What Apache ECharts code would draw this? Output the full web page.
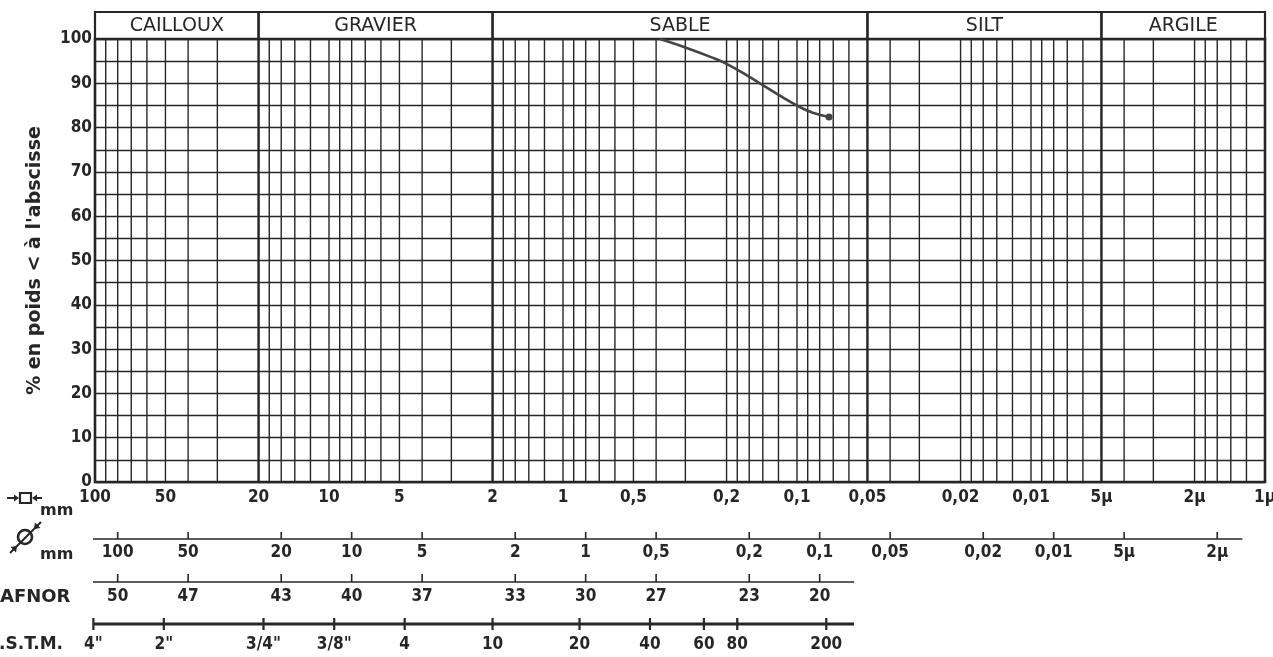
<!DOCTYPE html>
<html>
<head>
<meta charset="utf-8">
<title>Courbe granulométrique</title>
<script src="https://cdn.jsdelivr.net/npm/echarts@6/dist/echarts.min.js"></script>
<style>
  html, body { margin: 0; padding: 0; background: #ffffff; }
  #chart { width: 1273px; height: 657px; }
</style>
</head>
<body>
<div id="chart"></div>
<script>
// Soil classes shown in the header band, bounds in mm
const classNames = ['CAILLOUX', 'GRAVIER', 'SABLE', 'SILT', 'ARGILE'];
const classBounds = [100, 20, 2, 0.05, 0.005, 0.001];

// Log-paper ruling: in every decade, lines at these multiples of the decade base
const decadeBases = [10, 1, 0.1, 0.01, 0.001];
const rulingSteps = [9, 8, 7, 6, 5, 4, 3, 2, 1.8, 1.6, 1.4, 1.2];

// Square-mesh openings (mm) under the grid
const meshLabels = ['100', '50', '20', '10', '5', '2', '1', '0,5', '0,2', '0,1', '0,05', '0,02', '0,01', '5µ', '2µ', '1µ'];
const meshValues = [100, 50, 20, 10, 5, 2, 1, 0.5, 0.2, 0.1, 0.05, 0.02, 0.01, 0.005, 0.002, 0.001];

// Round-hole diameters (mm); a round hole passes the same grain as a square mesh 1.25 times smaller
const roundLabels = ['100', '50', '20', '10', '5', '2', '1', '0,5', '0,2', '0,1', '0,05', '0,02', '0,01', '5µ', '2µ'];
const roundValues = [100, 50, 20, 10, 5, 2, 1, 0.5, 0.2, 0.1, 0.05, 0.02, 0.01, 0.005, 0.002];
const ROUND_TO_SQUARE = 1.25;

// AFNOR sieve modules and their square openings (mm)
const afnorModules = ['50', '47', '43', '40', '37', '33', '30', '27', '23', '20'];
const afnorMm = [80, 40, 16, 8, 4, 1.6, 0.8, 0.4, 0.16, 0.08];

// A.S.T.M. sieve designations and openings (mm)
const astmLabels = ['4"', '2"', '3/4"', '3/8"', '4', '10', '20', '40', '60', '80', '200'];
const astmMm = [101.6, 50.8, 19.05, 9.5, 4.75, 2, 0.85, 0.425, 0.25, 0.18, 0.075];

// Extent of the scale rules below the grid (mm)
const roundRule = [102, 0.00125];
const sieveRule = [102, 0.057];

// Passing curve: grain size (mm) and % passing by weight
const curveMm = [0.385, 0.30, 0.23, 0.20, 0.165, 0.14, 0.115, 0.097, 0.085, 0.073];
const curvePct = [100, 98.1, 95.8, 94.4, 91.9, 89.6, 86.8, 84.6, 83.3, 82.4];

const INK = '#262626';
const NUM_FONT = "'DejaVu Sans Condensed', 'Liberation Sans Narrow', 'DejaVu Sans', sans-serif";
const TXT_FONT = "'DejaVu Sans', sans-serif";

const rulingValues = [];
decadeBases.forEach(function (b) {
  rulingValues.push(b * 10);
  rulingSteps.forEach(function (m) { rulingValues.push(b * m); });
});

const chart = echarts.init(document.getElementById('chart'), null, { renderer: 'canvas' });

// Vertical log-paper ruling inside the plot area
function rulingSeries() {
  return {
    type: 'custom', silent: true, clip: false, z: 2,
    data: rulingValues.map(function (v) { return [v, 0]; }),
    renderItem: function (params, api) {
      const a = api.coord([api.value(0), 0]);
      const b = api.coord([api.value(0), 100]);
      return { type: 'line', shape: { x1: a[0], y1: a[1], x2: b[0], y2: b[1] },
        style: { stroke: INK, lineWidth: 1.4 } };
    }
  };
}

// Header band with the soil class names and the class boundaries
function headerSeries() {
  return {
    type: 'custom', silent: true, clip: false, z: 4,
    data: classNames.map(function (n, i) { return [classBounds[i], 0, classBounds[i + 1], i]; }),
    renderItem: function (params, api) {
      const a = api.coord([api.value(0), 100]);
      const b = api.coord([api.value(2), 100]);
      const bottom = api.coord([api.value(0), 0])[1];
      const top = a[1] - 27;
      const children = [
        { type: 'rect', shape: { x: a[0], y: top, width: b[0] - a[0], height: 27 },
          style: { fill: 'none', stroke: INK, lineWidth: 2.2 } },
        { type: 'text', style: { text: classNames[api.value(3)], x: (a[0] + b[0]) / 2, y: top + 14,
          align: 'center', verticalAlign: 'middle', fill: INK,
          font: '500 19px ' + TXT_FONT } }
      ];
      if (api.value(3) > 0) {
        children.push({ type: 'line', shape: { x1: a[0], y1: a[1], x2: a[0], y2: bottom },
          style: { stroke: INK, lineWidth: 2.3 } });
      }
      return { type: 'group', children: children };
    }
  };
}

// A row of labelled ticks placed below the grid
function scaleRow(values, labels, opt) {
  return {
    type: 'custom', silent: true, clip: false, z: 4,
    data: values.map(function (v, i) { return [v, 0, i]; }),
    renderItem: function (params, api) {
      const p = api.coord([api.value(0), 0]);
      const y = p[1] + opt.line;
      const children = [];
      if (opt.tick) {
        children.push({ type: 'line', shape: { x1: p[0], y1: y - opt.tick[0], x2: p[0], y2: y + opt.tick[1] },
          style: { stroke: INK, lineWidth: opt.tickWidth || 1.6 } });
      }
      children.push({ type: 'text', style: { text: labels[api.value(2)], x: p[0], y: p[1] + opt.label,
        align: 'center', verticalAlign: 'middle', fill: INK, font: 'bold 17px ' + NUM_FONT } });
      return { type: 'group', children: children };
    }
  };
}

// A horizontal rule between two sizes, offset below the grid
function ruleSeries(span, offset, width) {
  return {
    type: 'custom', silent: true, clip: false, z: 3,
    data: [[span[0], 0, span[1]]],
    renderItem: function (params, api) {
      const a = api.coord([api.value(0), 0]);
      const b = api.coord([api.value(2), 0]);
      return { type: 'line', shape: { x1: a[0], y1: a[1] + offset, x2: b[0], y2: b[1] + offset },
        style: { stroke: INK, lineWidth: width } };
    }
  };
}

const lastIdx = curveMm.length - 1;

const option = {
  backgroundColor: '#ffffff',
  animation: false,
  grid: {
    left: 95, right: 8, top: 39, height: 443,
    show: true, borderColor: INK, borderWidth: 2.6, backgroundColor: 'transparent',
    containLabel: false, outerBoundsMode: 'none'
  },
  xAxis: {
    type: 'log', logBase: 10, min: 0.001, max: 100, inverse: true,
    axisLine: { show: false }, axisTick: { show: false }, axisLabel: { show: false },
    splitLine: { show: false }, minorSplitLine: { show: false }
  },
  yAxis: {
    type: 'value', min: 0, max: 100, interval: 5,
    axisLine: { show: false }, axisTick: { show: false },
    splitLine: { show: true, lineStyle: { color: INK, width: 1.4 } },
    axisLabel: {
      margin: 3, color: INK, fontSize: 17, fontWeight: 'bold', fontFamily: NUM_FONT,
      formatter: function (v) { return v % 10 === 0 ? String(v) : ''; }
    },
    name: "% en poids < à l'abscisse",
    nameLocation: 'middle', nameRotate: 90, nameGap: 50,
    nameTextStyle: { color: INK, fontSize: 19, fontWeight: 'bold', fontFamily: TXT_FONT }
  },
  series: [
    rulingSeries(),
    headerSeries(),
    scaleRow(meshValues, meshLabels, { line: 0, label: 16 }),
    ruleSeries(roundRule, 57, 1.6),
    scaleRow(roundValues.map(function (v) { return v / ROUND_TO_SQUARE; }), roundLabels,
      { line: 57, tick: [7, 0], label: 71 }),
    ruleSeries(sieveRule, 100, 1.6),
    scaleRow(afnorMm, afnorModules, { line: 100, tick: [8, 0], label: 115 }),
    ruleSeries(sieveRule, 142, 2.8),
    scaleRow(astmMm, astmLabels, { line: 142, tick: [6, 6], tickWidth: 2.2, label: 163 }),
    {
      type: 'line', name: 'passant', z: 6, smooth: 0.4,
      data: curveMm.map(function (m, i) { return [m, curvePct[i]]; }),
      symbol: 'circle',
      symbolSize: function (val, params) { return params.dataIndex === lastIdx ? 7 : 0; },
      showAllSymbol: true,
      itemStyle: { color: '#444444' },
      lineStyle: { color: '#444444', width: 2.6 }
    }
  ],
  graphic: [
    // square-mesh pictogram
    { type: 'rect', shape: { x: 20, y: 493, width: 11, height: 10 }, style: { fill: 'none', stroke: INK, lineWidth: 2.2 } },
    { type: 'line', shape: { x1: 7, y1: 498, x2: 17, y2: 498 }, style: { stroke: INK, lineWidth: 2 } },
    { type: 'polygon', shape: { points: [[19, 498], [14, 494.5], [14, 501.5]] }, style: { fill: INK } },
    { type: 'line', shape: { x1: 42, y1: 498, x2: 34, y2: 498 }, style: { stroke: INK, lineWidth: 2 } },
    { type: 'polygon', shape: { points: [[32, 498], [37, 494.5], [37, 501.5]] }, style: { fill: INK } },
    { type: 'text', style: { text: 'mm', x: 40, y: 511, align: 'left', verticalAlign: 'middle', fill: INK, font: 'bold 16px ' + TXT_FONT } },
    // round-hole pictogram
    { type: 'circle', shape: { cx: 25, cy: 537, r: 7 }, style: { fill: 'none', stroke: INK, lineWidth: 2.6 } },
    { type: 'line', shape: { x1: 10, y1: 553, x2: 41, y2: 522 }, style: { stroke: INK, lineWidth: 2 } },
    { type: 'polygon', shape: { points: [[34, 529], [35, 522.5], [40.5, 528]] }, style: { fill: INK } },
    { type: 'polygon', shape: { points: [[17, 546], [16, 552.5], [10.5, 547]] }, style: { fill: INK } },
    { type: 'text', style: { text: 'mm', x: 40, y: 555, align: 'left', verticalAlign: 'middle', fill: INK, font: 'bold 16px ' + TXT_FONT } },
    // sieve series names
    { type: 'text', style: { text: 'AFNOR', x: 0, y: 597, align: 'left', verticalAlign: 'middle', fill: INK, font: 'bold 18px ' + TXT_FONT } },
    { type: 'text', style: { text: 'A.S.T.M.', x: 63, y: 645, align: 'right', verticalAlign: 'middle', fill: INK, font: 'bold 17px ' + TXT_FONT } }
  ]
};

chart.setOption(option);
</script>
</body>
</html>
